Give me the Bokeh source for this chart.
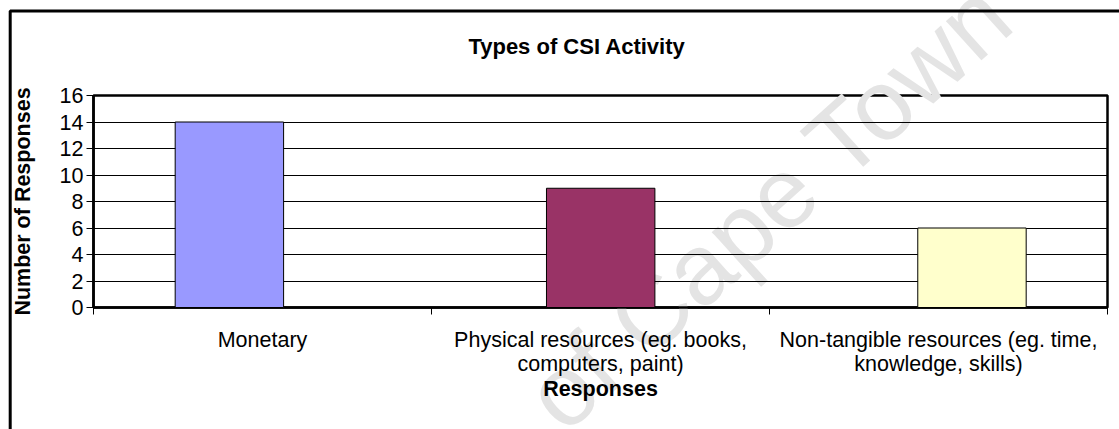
import math

from bokeh.core.properties import value
from bokeh.embed import file_html
from bokeh.resources import INLINE
from bokeh.plotting import figure
from bokeh.models import ColumnDataSource, FixedTicker, LinearAxis, Range1d

# Survey results: types of corporate social investment activity
chart_title = "Types of CSI Activity"
categories = [
    "Monetary",
    "Physical resources (eg. books,\ncomputers, paint)",
    "Non-tangible resources (eg. time,\nknowledge, skills)",
]
responses = [14, 9, 6]
bar_colors = ["#9999FF", "#993366", "#FFFFCC"]
y_ticks = [0, 2, 4, 6, 8, 10, 12, 14, 16]

FONT = "Liberation Sans"
FS = "21.5px"

W, H = 1119, 429
LEFT, RIGHT, TOP, BOTTOM = 93, 12, 95, 122

# bars sit on a numeric range (one unit per bar); the category slots are a
# second range with one unit per category
x_start, x_end = -0.366, 2.365
bar_width = 0.292
n = len(categories)

p = figure(width=W, height=H,
           x_range=Range1d(x_start, x_end), y_range=Range1d(0, 16),
           x_axis_location=None, y_axis_location=None,
           min_border_left=LEFT, min_border_right=RIGHT,
           min_border_top=TOP, min_border_bottom=BOTTOM,
           output_backend="svg", toolbar_location=None)
p.extra_x_ranges = {"cat": Range1d(0, n)}

p.background_fill_color = "white"
p.border_fill_color = "white"
p.outline_line_color = "black"
p.outline_line_width = 2.5

# pixel <-> data helpers for decorations outside the plot area
px_x = (x_end - x_start) / (W - LEFT - RIGHT)
px_y = 16 / (H - TOP - BOTTOM)


def data_x(canvas_x):
    return x_start + (canvas_x - LEFT) * px_x


def data_y(canvas_y):
    return 16 + (TOP - canvas_y) * px_y


# y axis
yaxis = LinearAxis(ticker=FixedTicker(ticks=y_ticks),
                   axis_label="Number of Responses")
yaxis.axis_line_color = "black"
yaxis.axis_line_width = 2.5
yaxis.major_tick_out = 7
yaxis.major_tick_in = 0
yaxis.major_tick_line_color = "black"
yaxis.minor_tick_line_color = None
yaxis.major_label_text_font = FONT
yaxis.major_label_text_font_size = FS
yaxis.major_label_text_color = "black"
yaxis.major_label_standoff = 3
yaxis.axis_label_text_font = FONT
yaxis.axis_label_text_font_size = FS
yaxis.axis_label_text_font_style = "bold"
yaxis.axis_label_text_color = "black"
yaxis.axis_label_standoff = 22
p.add_layout(yaxis, "left")

# category axis: labels at slot centres, separators at slot edges
slot_centres = [i + 0.5 for i in range(n)]
slot_edges = list(range(n + 1))
xaxis = LinearAxis(x_range_name="cat", axis_label="Responses",
                   ticker=FixedTicker(ticks=slot_centres, minor_ticks=slot_edges))
xaxis.major_label_overrides = {c: lab for c, lab in zip(slot_centres, categories)}
xaxis.axis_line_color = "black"
xaxis.axis_line_width = 2.5
xaxis.major_tick_line_color = None
xaxis.major_tick_out = 0
xaxis.major_tick_in = 0
xaxis.minor_tick_line_color = "black"
xaxis.minor_tick_out = 7
xaxis.minor_tick_in = 0
xaxis.major_label_text_font = FONT
xaxis.major_label_text_font_size = FS
xaxis.major_label_text_line_height = 1.0
xaxis.major_label_text_color = "black"
xaxis.major_label_standoff = 13
xaxis.axis_label_text_font = FONT
xaxis.axis_label_text_font_size = FS
xaxis.axis_label_text_font_style = "bold"
xaxis.axis_label_text_color = "black"
xaxis.axis_label_standoff = -2
p.add_layout(xaxis, "below")

# faint document watermark, under the grid and the bars
p.text(x=[data_x(995)], y=[data_y(0)], text=["of Cape Town"],
       angle=math.radians(42), text_align="right", text_baseline="alphabetic",
       text_font=value(FONT), text_font_size="100px",
       text_color="#e4e4e4", level="guide")

p.xgrid.visible = False
p.ygrid.ticker = FixedTicker(ticks=y_ticks)
p.ygrid.grid_line_color = "black"
p.ygrid.grid_line_width = 1
p.ygrid.level = "annotation"

source = ColumnDataSource(dict(
    x=list(range(n)),
    top=responses,
    color=bar_colors,
))
p.vbar(x="x", top="top", width=bar_width, bottom=0, source=source,
       fill_color="color", line_color="black", line_width=1, level="overlay")

# chart title, centred over the whole chart area
p.text(x=[data_x(576.5)], y=[data_y(46)], text=[chart_title],
       text_align="center", text_baseline="alphabetic",
       text_font=value(FONT), text_font_size="22px", text_font_style="bold",
       text_color="black", level="overlay")

# outer chart border (left and top edges; the rest runs past the page)
p.line(x=[data_x(9.7), data_x(9.7), data_x(W + 60)],
       y=[data_y(H + 60), data_y(10.5), data_y(10.5)],
       line_color="black", line_width=3, level="overlay")

open("out.html", "w").write(file_html(p, INLINE))
